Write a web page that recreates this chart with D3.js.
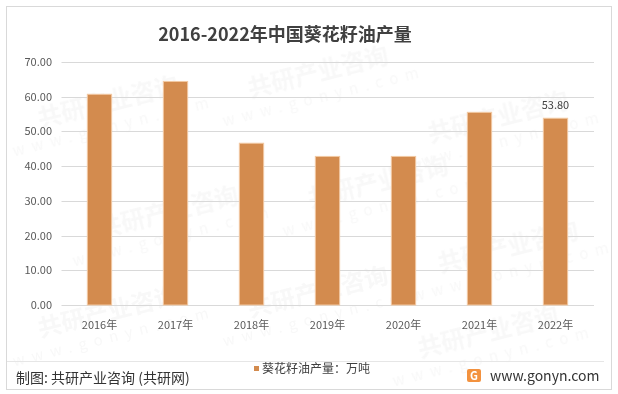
<!DOCTYPE html>
<html>
<head>
<meta charset="utf-8">
<script src="https://cdn.jsdelivr.net/npm/d3@7"></script>
<style>
  body { margin: 0; background: #fff; }
  text { font-family: "Microsoft YaHei", "Noto Sans CJK SC", sans-serif; }
</style>
</head>
<body>
<div id="chart"></div>
<script>
const years = ["2016年", "2017年", "2018年", "2019年", "2020年", "2021年", "2022年"];
const output = [60.7, 64.4, 46.6, 42.8, 42.8, 55.5, 53.8];
const yTicks = [0, 10, 20, 30, 40, 50, 60, 70];
const title = "2016-2022年中国葵花籽油产量";
const legendLabel = "葵花籽油产量：万吨";

const W = 618, H = 394;
const svg = d3.select("#chart").append("svg")
  .attr("width", W).attr("height", H);

// frame
svg.append("rect")
  .attr("x", 6.5).attr("y", 6.5).attr("width", 605).attr("height", 383)
  .attr("fill", "#fff").attr("stroke", "#d9d9d9");

// faint watermarks, kept inside the frame
const wm = svg.append("g").attr("opacity", 0.4);
[[110, 110], [320, 80], [500, 125], [170, 220], [380, 190], [510, 255], [110, 320], [320, 300], [490, 340]]
  .forEach(([x, y]) => {
    const g = wm.append("g").attr("transform", `translate(${x},${y}) rotate(-14)`);
    g.append("text").attr("text-anchor", "middle").attr("font-size", 24).attr("font-weight", "bold")
      .attr("fill", "#eeeeee").text("共研产业咨询");
    g.append("text").attr("text-anchor", "middle").attr("y", 22).attr("font-size", 15)
      .attr("letter-spacing", 7).attr("fill", "#eeeeee").text("www.gonyn.com");
  });

const x = d3.scaleBand().domain(years).range([61.5, 593.5]).paddingInner(0.68).paddingOuter(0.34);
const y = d3.scaleLinear().domain([0, 70]).range([305, 62]);

// gridlines
svg.append("g")
  .selectAll("line").data(yTicks).join("line")
  .attr("x1", 61.5).attr("x2", 594)
  .attr("y1", d => Math.round(y(d)) + 0.5).attr("y2", d => Math.round(y(d)) + 0.5)
  .attr("stroke", "#d9d9d9");

// y axis labels
svg.append("g")
  .selectAll("text").data(yTicks).join("text")
  .attr("x", 52).attr("y", d => y(d) + 4)
  .attr("text-anchor", "end").attr("font-size", 11).attr("fill", "#595959")
  .text(d => d.toFixed(2));

// x axis labels
svg.append("g")
  .selectAll("text").data(years).join("text")
  .attr("x", d => x(d) + x.bandwidth() / 2).attr("y", 329)
  .attr("text-anchor", "middle").attr("font-size", 11).attr("fill", "#595959")
  .text(d => d);

// bars
svg.append("g")
  .selectAll("rect").data(output).join("rect")
  .attr("x", (d, i) => x(years[i]))
  .attr("y", d => y(d))
  .attr("width", x.bandwidth())
  .attr("height", d => y(0) - y(d))
  .attr("fill", "#d38b4e")
  .attr("stroke", "#f2c9a3").attr("stroke-width", 1);

// data label on last bar
const last = output.length - 1;
svg.append("text")
  .attr("x", x(years[last]) + x.bandwidth() / 2).attr("y", y(output[last]) - 9)
  .attr("text-anchor", "middle").attr("font-size", 11).attr("fill", "#404040")
  .text(output[last].toFixed(2));

// title
svg.append("text")
  .attr("x", 285).attr("y", 41)
  .attr("text-anchor", "middle").attr("font-size", 18).attr("font-weight", "bold")
  .attr("fill", "#404040").text(title);

// footer separator
svg.append("line")
  .attr("x1", 7).attr("x2", 604).attr("y1", 361.5).attr("y2", 361.5)
  .attr("stroke", "#e6e6e6");

// legend
svg.append("rect").attr("x", 254).attr("y", 366).attr("width", 5).attr("height", 5).attr("fill", "#d38b4e");
svg.append("text").attr("x", 262).attr("y", 373).attr("font-size", 12).attr("fill", "#404040").text(legendLabel);

// source
svg.append("text").attr("x", 16).attr("y", 383).attr("font-size", 14).attr("fill", "#333")
  .text("制图: 共研产业咨询 (共研网)");

// logo
const logo = svg.append("g").attr("transform", "translate(467,369)");
logo.append("rect").attr("width", 14).attr("height", 13).attr("rx", 2).attr("fill", "#f3923f");
logo.append("text").attr("x", 7).attr("y", 11).attr("text-anchor", "middle")
  .attr("font-size", 11).attr("font-weight", "bold").attr("fill", "#fff").text("G");
svg.append("text").attr("x", 490).attr("y", 381).attr("font-size", 14).attr("fill", "#333")
  .text("www.gonyn.com");
</script>
</body>
</html>
